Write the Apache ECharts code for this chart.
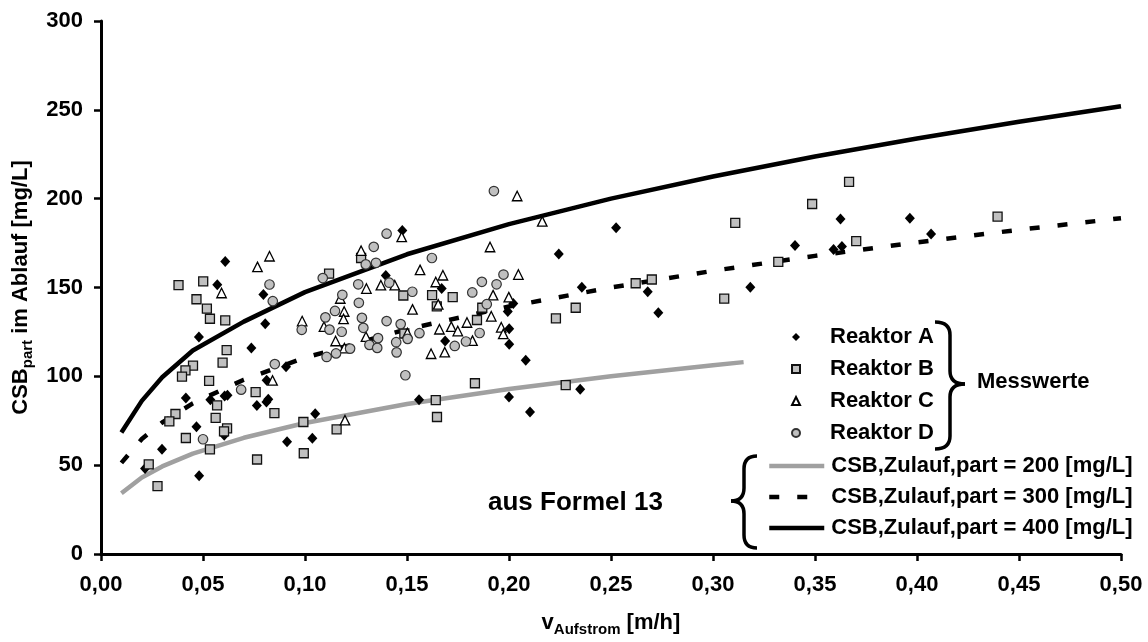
<!DOCTYPE html>
<html>
<head>
<meta charset="utf-8">
<script src="https://cdn.jsdelivr.net/npm/echarts@6/dist/echarts.min.js"></script>
<style>
  html, body { margin: 0; padding: 0; background: #fff; }
  #chart { width: 1148px; height: 642px; }
</style>
</head>
<body>
<div id="chart"></div>
<script>
// Measured particulate COD in the effluent vs. upflow velocity, four reactors
const reaktorA = [
  [0.0216,48.1],[0.0299,59.0],[0.0416,87.8],[0.0468,71.6],[0.0481,44.0],[0.0480,122.2],
  [0.0536,86.8],[0.0570,151.5],[0.0604,66.9],[0.0606,88.9],[0.0620,89.4],[0.0609,164.6],
  [0.0737,115.9],[0.0764,83.6],[0.0796,146.1],[0.0805,129.6],[0.0812,97.8],[0.0820,87.1],
  [0.0811,85.6],[0.0907,105.4],[0.0912,63.2],[0.1036,65.2],[0.1050,78.9],[0.1396,156.7],
  [0.1477,182.1],[0.1559,86.8],[0.1670,149.4],[0.1687,119.9],[0.1994,136.5],[0.2001,126.8],
  [0.2001,118.1],[0.2021,141.0],[0.2000,88.3],[0.2082,109.1],[0.2103,79.9],[0.2244,168.9],
  [0.2349,92.8],[0.2357,150.2],[0.2525,183.7],[0.2680,147.6],[0.2732,135.8],[0.3183,150.2],
  [0.3402,173.7],[0.3591,171.4],[0.3632,173.1],[0.3625,188.6],[0.3965,189.0],[0.4069,180.1]
];
const reaktorB = [
  [0.0380,151.3],[0.0501,153.4],[0.0468,143.4],[0.0519,138.1],[0.0534,132.4],[0.0609,131.5],
  [0.0616,114.7],[0.0596,107.7],[0.0451,106.0],[0.0414,103.4],[0.0397,99.8],[0.0530,97.4],
  [0.0758,91.1],[0.0569,83.6],[0.0850,79.3],[0.0365,78.8],[0.0335,74.6],[0.0562,76.6],
  [0.0618,70.7],[0.0603,69.0],[0.0416,65.3],[0.0534,58.9],[0.0765,53.2],[0.0992,74.3],
  [0.0994,56.7],[0.1155,70.1],[0.0234,50.4],[0.0277,38.2],[0.1118,157.8],[0.1275,166.6],
  [0.1482,145.5],[0.1623,145.7],[0.1646,139.4],[0.1724,144.6],[0.1869,138.6],[0.1843,131.7],
  [0.1487,124.1],[0.1833,96.1],[0.1641,86.6],[0.1647,77.1],[0.2230,132.6],[0.2327,138.6],
  [0.2621,152.4],[0.2700,154.5],[0.3055,143.7],[0.3109,186.4],[0.2278,95.0],[0.3320,164.4],
  [0.3486,197.0],[0.3667,209.5],[0.3702,176.1],[0.4395,189.9]
];
const reaktorC = [
  [0.0591,146.9],[0.0767,161.6],[0.0826,167.6],[0.0841,97.7],[0.0986,131.1],[0.1093,128.0],
  [0.1150,119.9],[0.1173,143.8],[0.1192,136.5],[0.1189,132.3],[0.1193,115.9],[0.1196,75.3],
  [0.1275,170.7],[0.1301,149.4],[0.1299,122.3],[0.1372,151.3],[0.1440,151.3],[0.1474,178.5],
  [0.1502,124.4],[0.1527,137.7],[0.1564,159.9],[0.1618,112.7],[0.1641,153.1],[0.1676,156.9],
  [0.1653,140.5],[0.1659,126.5],[0.1685,113.6],[0.1717,128.0],[0.1749,125.5],[0.1794,130.3],
  [0.1821,120.1],[0.1907,172.8],[0.1913,133.8],[0.1922,145.7],[0.1999,144.6],[0.1962,127.6],
  [0.1972,123.9],[0.2040,201.5],[0.2046,157.3],[0.2163,187.2]
];
const reaktorD = [
  [0.0500,64.6],[0.0687,92.5],[0.0826,151.7],[0.0842,142.3],[0.0852,106.9],[0.0984,126.2],
  [0.1087,155.3],[0.1100,133.2],[0.1120,126.3],[0.1106,110.9],[0.1147,136.8],[0.1152,112.9],
  [0.1180,125.1],[0.1183,145.9],[0.1221,115.6],[0.1261,151.8],[0.1264,141.4],[0.1279,132.9],
  [0.1286,127.3],[0.1298,163.0],[0.1348,163.9],[0.1337,172.9],[0.1316,117.7],[0.1354,116.0],
  [0.1358,121.5],[0.1400,180.3],[0.1413,152.7],[0.1400,131.1],[0.1447,119.2],[0.1449,113.5],
  [0.1469,129.4],[0.1503,121.1],[0.1492,100.6],[0.1526,147.6],[0.1561,124.3],[0.1622,166.6],
  [0.1734,117.1],[0.1789,119.6],[0.1820,147.2],[0.1856,124.4],[0.1867,153.2],[0.1891,140.6],
  [0.1939,151.8],[0.1973,157.3],[0.1926,204.3]
];

// Model curves (Formel 13) for three influent concentrations
const velocityGrid = [0.01, 0.02, 0.03, 0.045, 0.07, 0.10, 0.15, 0.20, 0.25, 0.30, 0.35, 0.40, 0.45, 0.50];
const curve400 = [68.4, 86.2, 99.5, 114.5, 130.8, 147.4, 168.7, 185.7, 200.0, 212.5, 223.7, 233.9, 243.3, 252.0];
const curve300 = [51.3, 64.7, 74.0, 84.8, 98.1, 110.5, 126.5, 139.3, 150.0, 159.4, 167.8, 175.4, 182.5, 189.0];
const velocityGrid200 = [0.01, 0.02, 0.03, 0.045, 0.07, 0.10, 0.15, 0.20, 0.25, 0.30, 0.315];
const curve200 = [34.2, 43.1, 49.3, 56.5, 65.4, 73.7, 84.4, 92.9, 100.0, 106.3, 108.0];

const seriesNames = ['Reaktor A', 'Reaktor B', 'Reaktor C', 'Reaktor D'];
const curveNames = [
  'CSB,Zulauf,part = 200 [mg/L]',
  'CSB,Zulauf,part = 300 [mg/L]',
  'CSB,Zulauf,part = 400 [mg/L]'
];

const FONT = '"Liberation Sans", Arial, sans-serif';
const zip = (xs, ys) => xs.map((x, i) => [x, ys[i]]);

// Curly brace built from quadratic curves and straight segments.
// xEnd: x of the two ends, xSpine: x of the vertical stroke, xTip: x of the point.
function brace(xEnd, xSpine, xTip, top, mid, bottom, r) {
  const st = { stroke: '#000', lineWidth: 3.5, fill: 'none' };
  const curve = (x1, y1, cx, cy, x2, y2) => ({
    type: 'bezierCurve', z: 10, shape: { x1, y1, cpx1: cx, cpy1: cy, x2, y2 }, style: st
  });
  const seg = (x1, y1, x2, y2) => ({ type: 'line', z: 10, shape: { x1, y1, x2, y2 }, style: st });
  return [
    curve(xEnd, top, xSpine, top, xSpine, top + r),
    seg(xSpine, top + r, xSpine, mid - r),
    curve(xSpine, mid - r, xSpine, mid, xTip, mid),
    curve(xTip, mid, xSpine, mid, xSpine, mid + r),
    seg(xSpine, mid + r, xSpine, bottom - r),
    curve(xSpine, bottom - r, xSpine, bottom, xEnd, bottom)
  ];
}

const richName = {
  m: { fontSize: 22, fontWeight: 'bold', fontFamily: FONT, color: '#000', verticalAlign: 'bottom', padding: [0, 0, 3, 0] },
  s: { fontSize: 15, fontWeight: 'bold', fontFamily: FONT, color: '#000', verticalAlign: 'bottom' }
};

const chart = echarts.init(document.getElementById('chart'), null, { renderer: 'canvas' });

const scatterBase = { type: 'scatter', z: 3 };

chart.setOption({
  backgroundColor: '#fff',
  animation: false,
  grid: { left: 101, right: 27, top: 21, bottom: 85, containLabel: false },
  xAxis: {
    type: 'value', min: 0, max: 0.5, interval: 0.05,
    name: '{m|v}{s|Aufstrom}{m| [m/h]}',
    nameLocation: 'middle', nameGap: 58,
    nameTextStyle: { rich: richName },
    axisLine: { lineStyle: { color: '#000', width: 3 } },
    axisTick: { length: 7, lineStyle: { color: '#000', width: 2.5 } },
    axisLabel: {
      margin: 20, fontSize: 22, fontWeight: 'bold', fontFamily: FONT, color: '#000',
      formatter: v => v.toFixed(2).replace('.', ',')
    },
    splitLine: { show: false }
  },
  yAxis: {
    type: 'value', min: 0, max: 300, interval: 50,
    name: '{m|CSB}{s|part}{m| im Ablauf [mg/L]}',
    nameLocation: 'middle', nameGap: 64, nameRotate: 90,
    nameTextStyle: { rich: richName },
    axisLine: { onZero: false, lineStyle: { color: '#000', width: 3 } },
    axisTick: { length: 7, lineStyle: { color: '#000', width: 2.5 } },
    axisLabel: { margin: 18, fontSize: 22, fontWeight: 'bold', fontFamily: FONT, color: '#000' },
    splitLine: { show: false }
  },
  legend: [
    {
      data: seriesNames,
      orient: 'vertical', left: 791, top: 326, padding: 0,
      itemWidth: 8, itemHeight: 8, itemGap: 10,
      textStyle: { fontSize: 22, fontWeight: 'bold', fontFamily: FONT, color: '#000', lineHeight: 22, padding: [0, 0, 0, 25] }
    },
    {
      data: curveNames,
      orient: 'vertical', left: 767, top: 455, padding: 0,
      itemWidth: 55, itemHeight: 8, itemGap: 9,
      itemStyle: { opacity: 0 },
      lineStyle: { width: 4.5 },
      textStyle: { fontSize: 22, fontWeight: 'bold', fontFamily: FONT, color: '#000', lineHeight: 22, padding: [0, 0, 0, 2] }
    }
  ],
  graphic: [].concat(
    brace(935, 950, 965, 322, 384, 449, 13),
    brace(757, 744, 731, 456, 501, 548, 13),
    [
      {
        type: 'text', z: 10, left: 977, top: 371,
        style: { text: 'Messwerte', font: 'bold 22px ' + FONT, fill: '#000' }
      },
      {
        type: 'text', z: 10, left: 488, top: 490,
        style: { text: 'aus Formel 13', font: 'bold 26px ' + FONT, fill: '#000' }
      }
    ]
  ),
  series: [
    {
      name: curveNames[0], type: 'line', z: 2, symbol: 'none', smooth: false,
      data: zip(velocityGrid200, curve200),
      lineStyle: { color: '#a0a0a0', width: 4.5 }, itemStyle: { color: '#a0a0a0' }
    },
    {
      name: curveNames[1], type: 'line', z: 2, symbol: 'none', smooth: false,
      data: zip(velocityGrid, curve300),
      lineStyle: { color: '#000', width: 4.5, type: [10, 18] }, itemStyle: { color: '#000' }
    },
    {
      name: curveNames[2], type: 'line', z: 2, symbol: 'none', smooth: false,
      data: zip(velocityGrid, curve400),
      lineStyle: { color: '#000', width: 4.5 }, itemStyle: { color: '#000' }
    },
    Object.assign({}, scatterBase, {
      name: seriesNames[0], data: reaktorA, symbol: 'diamond', symbolSize: [10, 11],
      itemStyle: { color: '#000', borderColor: '#000', borderWidth: 0, opacity: 1 }
    }),
    Object.assign({}, scatterBase, {
      name: seriesNames[1], data: reaktorB, symbol: 'rect', symbolSize: 9,
      itemStyle: { color: '#c0c0c0', borderColor: '#111', borderWidth: 1.3, opacity: 1 }
    }),
    Object.assign({}, scatterBase, {
      name: seriesNames[2], data: reaktorC, symbol: 'triangle', symbolSize: 9.5,
      itemStyle: { color: '#fff', borderColor: '#000', borderWidth: 1.3, opacity: 1 }
    }),
    Object.assign({}, scatterBase, {
      name: seriesNames[3], data: reaktorD, symbol: 'circle', symbolSize: 9.5,
      itemStyle: { color: '#c0c0c0', borderColor: '#333', borderWidth: 1.2, opacity: 1 }
    })
  ]
});
</script>
</body>
</html>
